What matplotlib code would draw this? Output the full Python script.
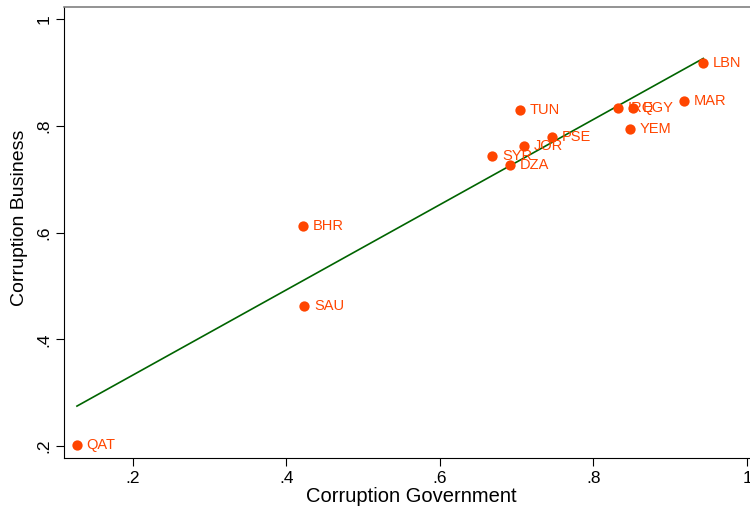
import numpy as np
import matplotlib.pyplot as plt

plt.rcParams['font.family'] = ['Liberation Sans', 'DejaVu Sans']

countries = ['LBN', 'MAR', 'IRQ', 'EGY', 'YEM', 'TUN', 'PSE', 'JOR', 'SYR', 'DZA', 'BHR', 'SAU', 'QAT']
corr_gov = [0.943, 0.918, 0.832, 0.851, 0.848, 0.704, 0.746, 0.710, 0.668, 0.691, 0.4215, 0.423, 0.127]
corr_bus = [0.918, 0.847, 0.834, 0.834, 0.795, 0.829, 0.780, 0.763, 0.743, 0.726, 0.612, 0.463, 0.202]

x = np.array(corr_gov)
y = np.array(corr_bus)

# linear fit between min and max x
slope, intercept = np.polyfit(x, y, 1)
xs = np.array([x.min(), x.max()])

fig = plt.figure(figsize=(7.5, 5.12), dpi=100)
ax = fig.add_axes([0.0853, 0.1055, 0.9147, 0.8815])

dot_col = '#ff4500'
ax.scatter(x, y, s=55, color=dot_col, zorder=3, linewidths=0)
ax.plot(xs, slope * xs + intercept, color='#006400', lw=1.2, zorder=2)

for c, xi, yi in zip(countries, x, y):
    ax.annotate(c, (xi, yi), xytext=(7, 0), textcoords='offset points',
                va='center', ha='left', color=dot_col, fontsize=10.5)

ax.set_xlim(0.1101, 1.0039)
ax.set_ylim(0.1775, 1.0234)
ax.set_xticks([0.2, 0.4, 0.6, 0.8, 1.0])
ax.set_xticklabels(['.2', '.4', '.6', '.8', '1'])
ax.set_yticks([0.2, 0.4, 0.6, 0.8, 1.0])
ax.set_yticklabels(['.2', '.4', '.6', '.8', '1'], rotation=90, va='center')

ax.spines['right'].set_visible(False)
ax.spines['top'].set_color('#808080')
ax.spines['top'].set_linewidth(1.2)
ax.tick_params(direction='out', length=5.5, labelsize=12.5, colors='black')
ax.tick_params(axis='x', pad=4)

ax.set_xlabel('Corruption Government', fontsize=14.5)
ax.set_ylabel('Corruption Business', fontsize=14)
ax.xaxis.set_label_coords(0.507, -0.064)
ax.yaxis.set_label_coords(-0.052, 0.532)

fig.savefig('out.png', dpi=100)
